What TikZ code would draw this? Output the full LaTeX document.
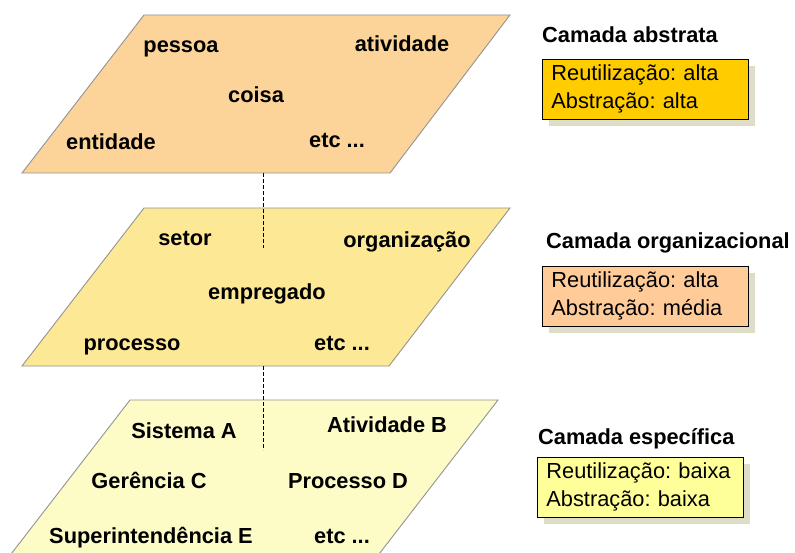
\documentclass[tikz,border=0pt]{standalone}
\usepackage{fontspec}
\setmainfont{Liberation Sans}
\usetikzlibrary{positioning, shadows}
\definecolor{abstrfill}{RGB}{252,212,154}
\definecolor{orgfill}{RGB}{253,232,150}
\definecolor{specfill}{RGB}{253,251,198}
\definecolor{boxA}{RGB}{255,204,0}
\definecolor{boxB}{RGB}{255,204,153}
\definecolor{boxC}{RGB}{255,255,153}
\definecolor{shadowc}{RGB}{222,222,200}
\frenchspacing
\tikzset{
    layer/.style={draw=gray!85, fill=#1, line width=0.9pt},
    term/.style={font=\fontsize{21.8}{25}\selectfont\bfseries, anchor=base, inner sep=0pt},
    title/.style={font=\fontsize{21.8}{25}\selectfont\bfseries, anchor=base west, inner sep=0pt},
    info/.style={draw=black, fill=#1, line width=0.8pt, font=\fontsize{21.8}{28}\selectfont, align=left, text width=188pt, inner xsep=9pt, minimum height=60pt, anchor=north west, drop shadow={shadow xshift=7pt, shadow yshift=-7pt, fill=shadowc, opacity=1}},
    link/.style={dash pattern=on 4pt off 2pt, line width=0.8pt},
}
\begin{document}
\begin{tikzpicture}[x=1pt, y=-1pt]
    \useasboundingbox (0,0) rectangle (795,553);
    % layers
    \draw[layer=abstrfill] (144,15) -- (510,15) -- (390,173) -- (22,173) -- cycle;
    \draw[layer=orgfill] (144,208) -- (510,208) -- (389,366) -- (22,366) -- cycle;
    \draw[layer=specfill] (130,400) -- (498,400) -- (376,558) -- (8,558) -- cycle;
    \coordinate (abstrBot) at (263,173);
    \coordinate (orgIn) at (263,248);
    \coordinate (orgBot) at (263,366);
    \coordinate (specIn) at (263,450);
    \draw[link] (abstrBot) -- (orgIn);
    \draw[link] (orgBot) -- (specIn);

    % camada abstrata
    \node [term] (pessoa) at (181,53) {pessoa};
    \node [term] (atividade) at (402,52) {atividade};
    \node [term] (coisa) at (256,103) {coisa};
    \node [term] (entidade) at (111,150) {entidade};
    \node [term] (etcA) at (337,148) {etc ...};

    % camada organizacional
    \node [term] (setor) at (185,246) {setor};
    \node [term] (organizacao) at (407,248) {organização};
    \node [term] (empregado) at (267,299) {empregado};
    \node [term] (processo) at (132,350) {processo};
    \node [term] (etcB) at (342,350) {etc ...};

    % camada especifica
    \node [term] (sistA) at (184,438) {Sistema A};
    \node [term] (ativB) at (387,432) {Atividade B};
    \node [term] (gerC) at (149,488) {Gerência C};
    \node [term] (procD) at (348,488) {Processo D};
    \node [term] (supE) at (151,543) {Superintendência E};
    \node [term] (etcC) at (342,543) {etc ...};

    % legendas
    \node [title] (abstrTitle) at (542,43) {Camada abstrata};
    \node [info=boxA] (abstrBox) at (542,59) {Reutilização: alta\\Abstração: alta};
    \node [title] (orgTitle) at (546,249) {Camada organizacional};
    \node [info=boxB] (orgBox) at (542,266) {Reutilização: alta\\Abstração: média};
    \node [title] (specTitle) at (538,444) {Camada específica};
    \node [info=boxC] (specBox) at (537,457) {Reutilização: baixa\\Abstração: baixa};
\end{tikzpicture}
\end{document}
